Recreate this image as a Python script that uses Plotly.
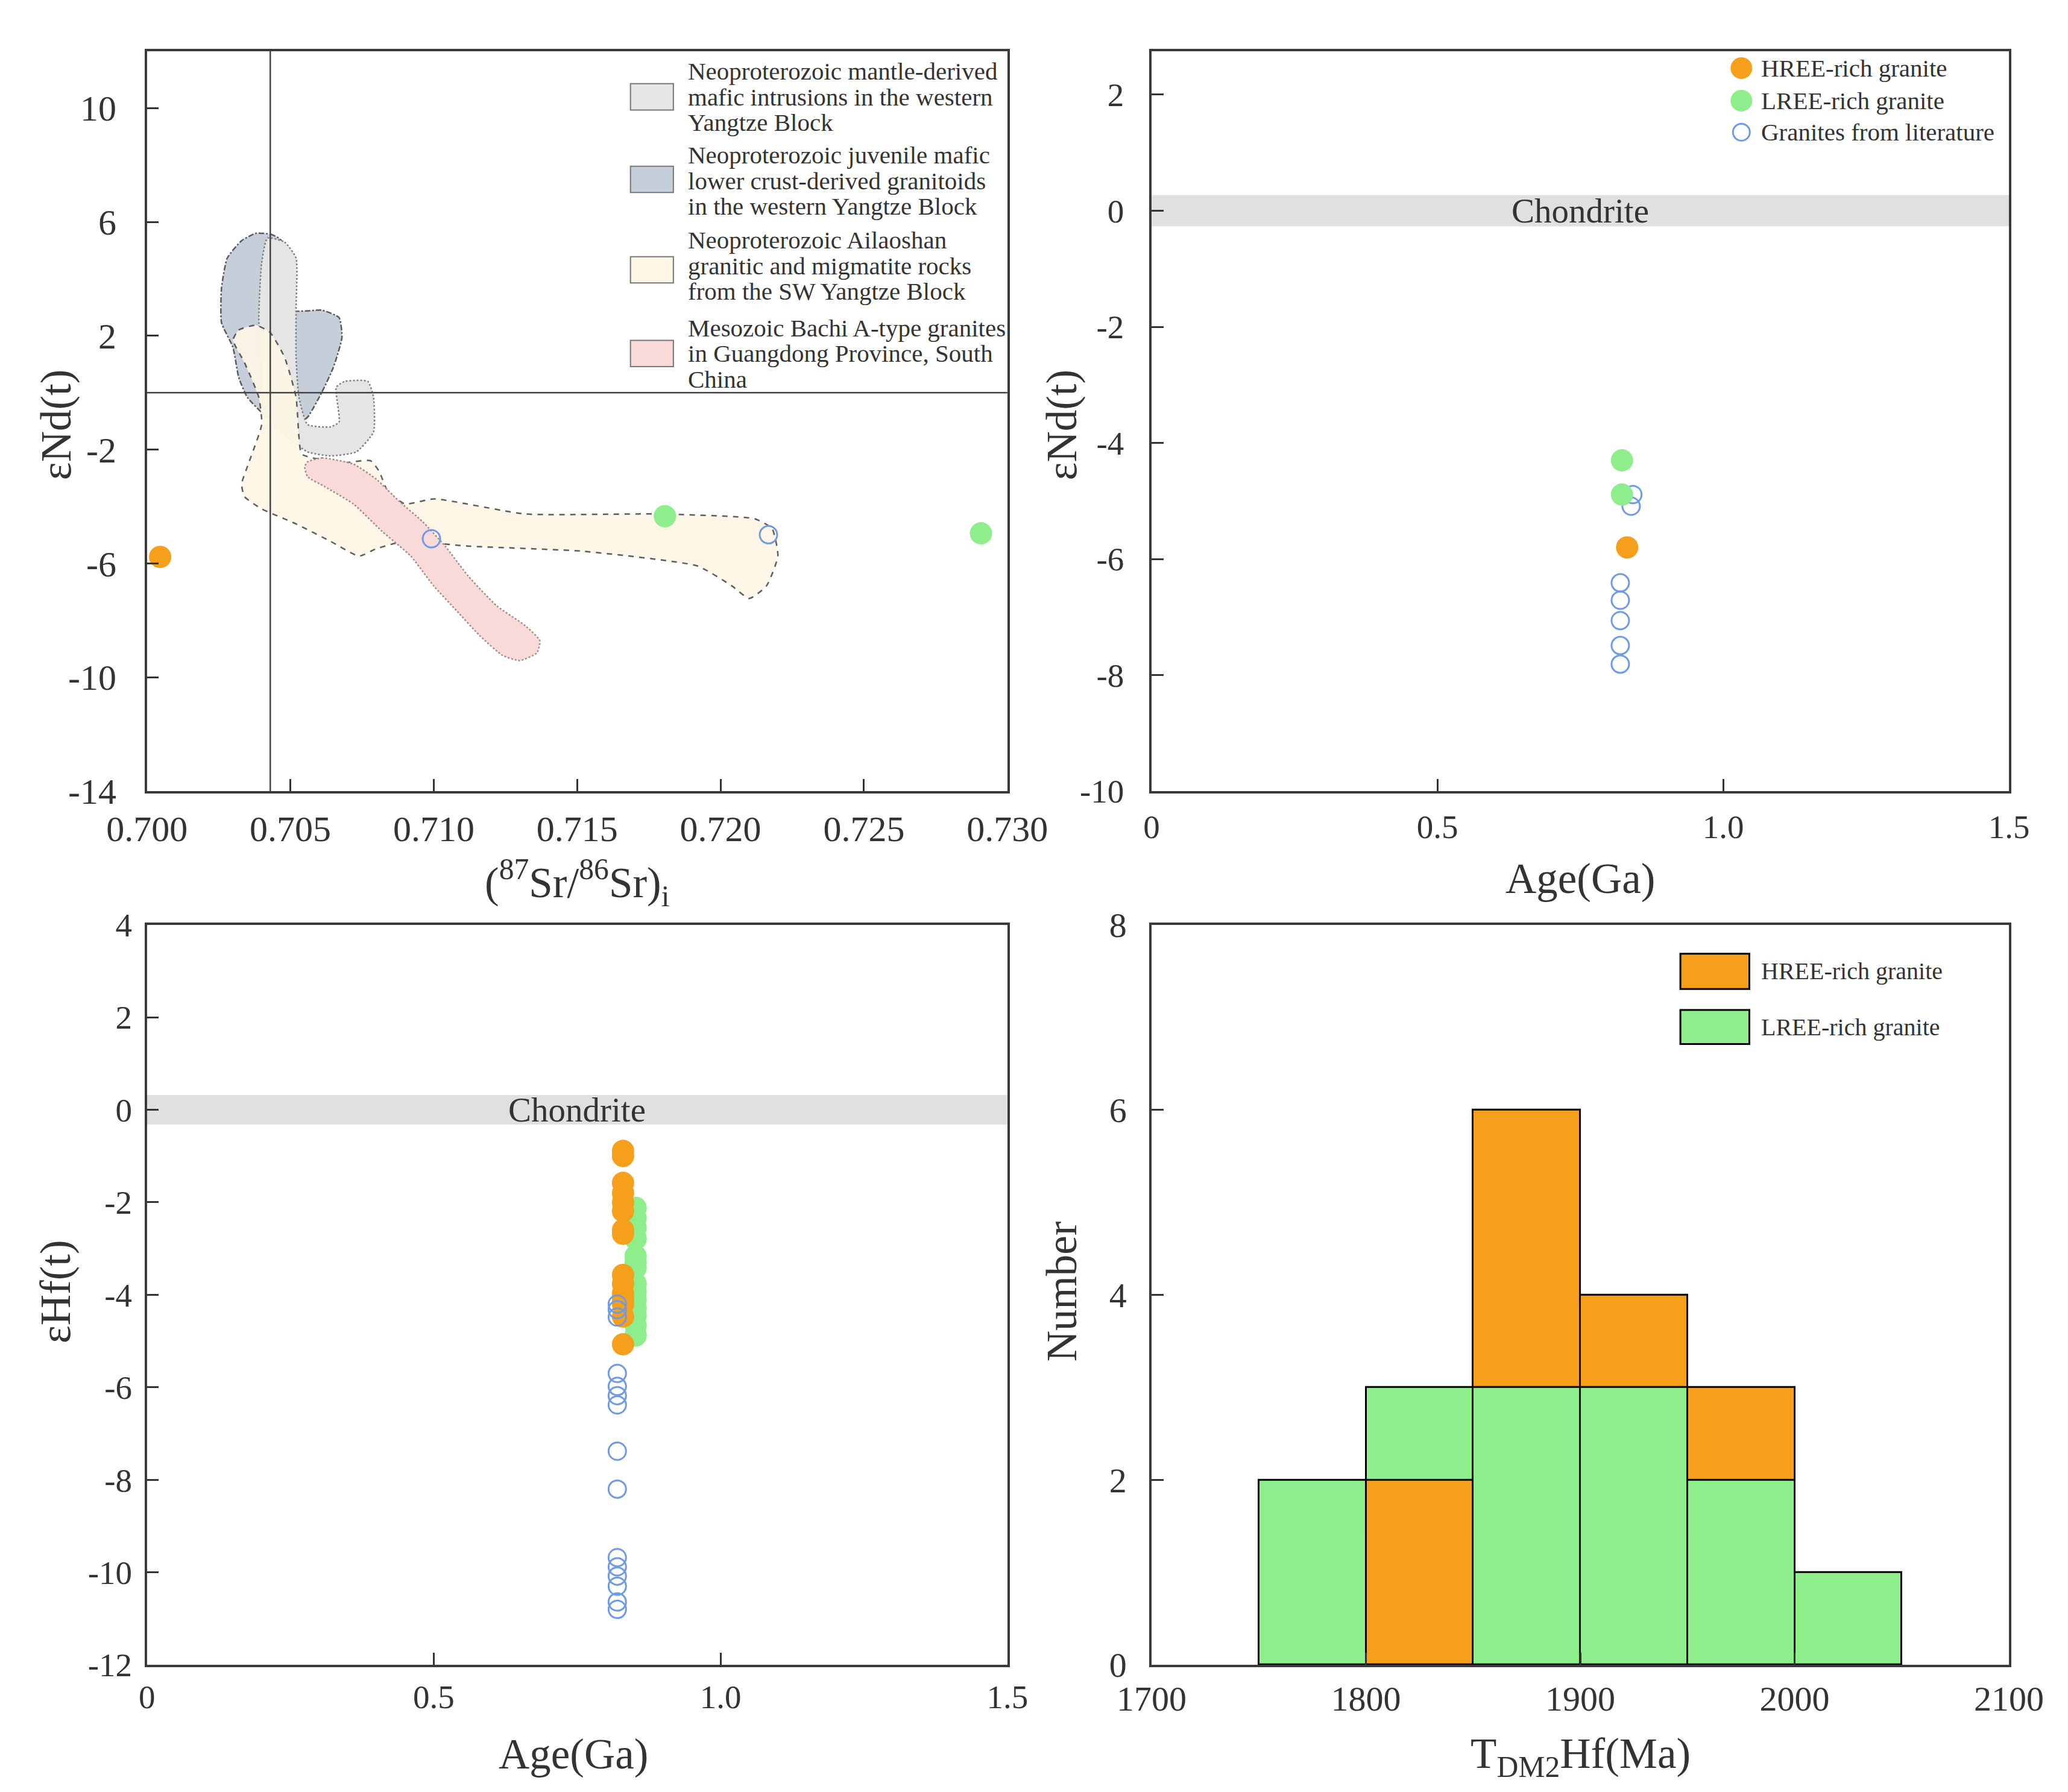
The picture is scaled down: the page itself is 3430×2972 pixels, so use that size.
import plotly.graph_objects as go

# ---- data -------------------------------------------------------------
# (87Sr/86Sr)i vs eNd(t)
sr_hree = [0.70046]
nd_hree_sr = [-5.77]
sr_lree = [0.71806, 0.72908]
nd_lree_sr = [-4.34, -4.94]
sr_lit = [0.70992, 0.72167]
nd_lit_sr = [-5.13, -4.99]
sr_bse = 0.7043

# reference fields (x = Sr ratio, y = eNd)
mafic_x = [0.7042, 0.7048, 0.7052, 0.7052, 0.7052, 0.7053, 0.7056, 0.7064, 0.7067, 0.7066, 0.7069, 0.7077,
           0.7079, 0.7079, 0.7073, 0.7064, 0.7056, 0.7050, 0.7045, 0.7041, 0.7040, 0.7039, 0.7040]
mafic_y = [5.43, 5.29, 4.73, 2.98, 1.24, -0.16, -1.12, -1.20, -1.03, 0.19, 0.40, 0.40,
           -0.16, -1.38, -2.08, -2.22, -2.08, -1.64, -1.20, -0.51, 0.54, 2.64, 4.56]
juvenile_x = [0.7038, 0.7043, 0.7046, 0.7050, 0.7051, 0.7061, 0.7067, 0.7068, 0.7065, 0.7061, 0.7056,
              0.7052, 0.7042, 0.7035, 0.7032, 0.7030, 0.7026, 0.7026, 0.7028, 0.7033]
juvenile_y = [5.60, 5.57, 5.43, 4.90, 2.90, 2.90, 2.64, 1.94, 0.89, 0.02, -0.86,
              -1.12, -0.86, -0.16, 0.54, 1.59, 2.46, 3.68, 4.73, 5.34]
ailaoshan_x = [0.7030, 0.7032, 0.7038, 0.7043, 0.7048, 0.7052, 0.7053, 0.7054, 0.7068, 0.7078, 0.7081,
               0.7084, 0.7090, 0.7100, 0.7132, 0.7178, 0.7212, 0.7218, 0.7220, 0.7216, 0.7210, 0.7204,
               0.7192, 0.7152, 0.7112, 0.7090, 0.7080, 0.7074, 0.7064, 0.7052, 0.7040, 0.7034, 0.7033,
               0.7035, 0.7040, 0.7039, 0.7034]
ailaoshan_y = [1.85, 2.20, 2.37, 2.11, 1.24, -0.16, -1.55, -2.16, -2.46, -2.39, -2.77,
               -3.47, -3.91, -3.73, -4.26, -4.26, -4.43, -4.78, -5.74, -6.79, -7.23, -6.79,
               -6.09, -5.57, -5.39, -5.22, -5.48, -5.74, -5.22, -4.61, -4.08, -3.65, -3.21,
               -2.60, -1.12, -0.16, 1.06]
bachi_x = [0.7056, 0.7061, 0.7072, 0.7080, 0.7088, 0.7096, 0.7104, 0.7112, 0.7122, 0.7132, 0.7137, 0.7136,
           0.7130, 0.7124, 0.7116, 0.7108, 0.7100, 0.7092, 0.7082, 0.7072, 0.7062, 0.7056, 0.7055]
bachi_y = [-2.43, -2.29, -2.51, -3.04, -3.82, -4.52, -5.39, -6.44, -7.49, -8.19, -8.71, -9.14,
           -9.41, -9.23, -8.53, -7.66, -6.79, -5.74, -4.87, -3.91, -3.30, -2.95, -2.60]

field_labels = [
    ["Neoproterozoic mantle-derived", "mafic intrusions in the western", "Yangtze Block"],
    ["Neoproterozoic juvenile mafic", "lower crust-derived granitoids", "in the western Yangtze Block"],
    ["Neoproterozoic Ailaoshan", "granitic and migmatite rocks", "from the SW Yangtze Block"],
    ["Mesozoic Bachi A-type granites", "in Guangdong Province, South", "China"],
]

# Age vs eNd(t)
age_nd_hree = [0.832]
nd_hree = [-5.80]
age_nd_lree = [0.823, 0.823]
nd_lree = [-4.30, -4.89]
age_nd_lit = [0.842, 0.839, 0.820, 0.820, 0.820, 0.820, 0.820]
nd_lit = [-4.89, -5.09, -6.41, -6.71, -7.06, -7.49, -7.81]

# Age vs eHf(t)
hf_hree = [-0.89, -1.00, -1.58, -1.80, -2.00, -2.19, -2.60, -2.68, -3.57, -3.76, -3.97, -4.10, -4.20, -4.47, -5.07]
hf_lree = [-2.12, -2.34, -2.55, -2.79, -3.16, -3.30, -3.42, -3.76, -3.93, -4.10, -4.28, -4.45, -4.67, -4.88]
hf_lit = [-4.20, -4.32, -4.48, -5.70, -5.98, -6.18, -6.38, -7.38, -8.20, -9.68, -9.88, -10.08, -10.30, -10.64, -10.80]
age_hf_hree = 0.830
age_hf_lree = 0.852
age_hf_lit = 0.820

# TDM2 Hf histogram (bin centres, width 50 Ma)
tdm_bins = [1775, 1825, 1875, 1925, 1975, 2025]
tdm_hree = [0, 2, 6, 4, 3, 0]
tdm_lree = [2, 3, 3, 3, 2, 1]

# ---- style --------------------------------------------------------------
FONT = "Liberation Serif"
TXT = "#333333"
ORANGE = "#F59F1B"
GREEN = "#8DEE8B"
BLUE = "#6F9BE6"
fill_cols = ["#E5E5E5", "#C6CEDA", "#FDF6E6", "#FAD9D9"]
edge_cols = ["#808080", "#5A5A5A", "#555555", "#A08C8C"]
edge_dash = ["dot", "dashdot", "dash", "dot"]

fig = go.Figure()

fields = [(juvenile_x, juvenile_y, 1), (mafic_x, mafic_y, 0),
          (ailaoshan_x, ailaoshan_y, 2), (bachi_x, bachi_y, 3)]
for fx, fy, k in fields:
    fig.add_trace(go.Scatter(
        x=fx + fx[:1], y=fy + fy[:1], mode="lines", fill="toself",
        fillcolor=fill_cols[k], opacity=0.95 if k == 2 else 1,
        line=dict(color=edge_cols[k], width=2.5, dash=edge_dash[k], shape="spline", smoothing=0.5),
        xaxis="x", yaxis="y", showlegend=False, hoverinfo="skip"))

def open_marker():
    return dict(symbol="circle-open", size=29, color=BLUE, line=dict(width=3, color=BLUE))

def fill_marker(c):
    return dict(symbol="circle", size=37, color=c)

fig.add_trace(go.Scatter(x=sr_hree, y=nd_hree_sr, mode="markers", marker=fill_marker(ORANGE), xaxis="x", yaxis="y"))
fig.add_trace(go.Scatter(x=sr_lree, y=nd_lree_sr, mode="markers", marker=fill_marker(GREEN), xaxis="x", yaxis="y"))
fig.add_trace(go.Scatter(x=sr_lit, y=nd_lit_sr, mode="markers", marker=open_marker(), xaxis="x", yaxis="y"))

fig.add_trace(go.Scatter(x=age_nd_lit, y=nd_lit, mode="markers", marker=open_marker(), xaxis="x2", yaxis="y2"))
fig.add_trace(go.Scatter(x=age_nd_hree, y=nd_hree, mode="markers", marker=fill_marker(ORANGE), xaxis="x2", yaxis="y2"))
fig.add_trace(go.Scatter(x=age_nd_lree, y=nd_lree, mode="markers", marker=fill_marker(GREEN), xaxis="x2", yaxis="y2"))

fig.add_trace(go.Scatter(x=[age_hf_lree] * len(hf_lree), y=hf_lree, mode="markers", marker=fill_marker(GREEN), xaxis="x3", yaxis="y3"))
fig.add_trace(go.Scatter(x=[age_hf_hree] * len(hf_hree), y=hf_hree, mode="markers", marker=fill_marker(ORANGE), xaxis="x3", yaxis="y3"))
fig.add_trace(go.Scatter(x=[age_hf_lit] * len(hf_lit), y=hf_lit, mode="markers", marker=open_marker(), xaxis="x3", yaxis="y3"))

# histogram: taller bar behind, shorter one in front
back_h, back_c, front_h, front_c = [], [], [], []
for h, l in zip(tdm_hree, tdm_lree):
    if h >= l:
        back_h.append(h); back_c.append(ORANGE); front_h.append(l); front_c.append(GREEN)
    else:
        back_h.append(l); back_c.append(GREEN); front_h.append(h); front_c.append(ORANGE)
fig.add_trace(go.Bar(x=tdm_bins, y=back_h, width=50, marker=dict(color=back_c, line=dict(color="black", width=3)),
                     xaxis="x4", yaxis="y4"))
fig.add_trace(go.Bar(x=tdm_bins, y=[v if v > 0 else None for v in front_h], width=50,
                     marker=dict(color=front_c, line=dict(color="black", width=3)), xaxis="x4", yaxis="y4"))

# ---- axes ------------------------------------------------------------------
L_DOM = [0.0509, 0.4840]
R_DOM = [0.5566, 0.9882]
T_DOM = [0.5622, 0.9846]
B_DOM = [0.0636, 0.4860]

def ax(dom, rng, vals, txt, anchor, standoff, size=55):
    return dict(domain=dom, range=rng, tickvals=vals, ticktext=txt, anchor=anchor,
                ticks="inside", ticklen=20, tickwidth=2.5, tickcolor=TXT,
                showline=True, mirror=True, linecolor="#3a3a3a", linewidth=3.5,
                showgrid=False, zeroline=False, ticklabelstandoff=standoff,
                tickfont=dict(family=FONT, size=size, color=TXT))

sr_ticks = [0.700, 0.705, 0.710, 0.715, 0.720, 0.725, 0.730]
nd1_ticks = [-14, -10, -6, -2, 2, 6, 10]
age_ticks = [0, 0.5, 1.0, 1.5]
nd2_ticks = [-10, -8, -6, -4, -2, 0, 2]
hf_ticks = [-12, -10, -8, -6, -4, -2, 0, 2, 4]
tdm_ticks = [1700, 1800, 1900, 2000, 2100]
num_ticks = [0, 2, 4, 6, 8]
age_txt = ["0", "0.5", "1.0", "1.5"]

fig.update_layout(
    xaxis=ax(L_DOM, [0.700, 0.730], sr_ticks, ["%.3f" % v for v in sr_ticks], "y", 7, 60),
    yaxis=ax(T_DOM, [-14, 12], nd1_ticks, [str(v) for v in nd1_ticks], "x", 35, 60),
    xaxis2=ax(R_DOM, [0, 1.5], age_ticks, age_txt, "y2", 8),
    yaxis2=ax(T_DOM, [-10, 2.75], nd2_ticks, [str(v) for v in nd2_ticks], "x2", 31),
    xaxis3=ax(L_DOM, [0, 1.5], age_ticks, age_txt, "y3", 2),
    yaxis3=ax(B_DOM, [-12, 4], hf_ticks, [str(v) for v in hf_ticks], "x3", 10),
    xaxis4=ax(R_DOM, [1700, 2100], tdm_ticks, [str(v) for v in tdm_ticks], "y4", 2, 58),
    yaxis4=ax(B_DOM, [0, 8], num_ticks, [str(v) for v in num_ticks], "x4", 26, 58),
)

shapes = [
    dict(type="line", xref="x", yref="y domain", x0=sr_bse, x1=sr_bse, y0=0, y1=1,
         line=dict(color="#444", width=2.5)),
    dict(type="line", xref="x domain", yref="y", x0=0, x1=1, y0=0, y1=0,
         line=dict(color="#444", width=2.5)),
    dict(type="rect", xref="x2 domain", yref="y2", x0=0, x1=1, y0=-0.27, y1=0.27,
         fillcolor="#E0E0E0", line=dict(width=0), layer="below"),
    dict(type="rect", xref="x3 domain", yref="y3", x0=0, x1=1, y0=-0.32, y1=0.32,
         fillcolor="#E0E0E0", line=dict(width=0), layer="below"),
]

ann = []
def text(x, y, s, size=41, xanchor="left", angle=0, xref="paper", yref="paper"):
    ann.append(dict(x=x, y=y, xref=xref, yref=yref, text=s, showarrow=False, xanchor=xanchor,
                    yanchor="middle", textangle=angle, font=dict(family=FONT, size=size, color=TXT)))

# legend for reference fields (top-left)
box_top = [0.9660, 0.9189, 0.8673, 0.8195]
text_mid = [0.9585, 0.9107, 0.8621, 0.8120]
line_step = 0.01458
for k, lines in enumerate(field_labels):
    shapes.append(dict(type="rect", xref="paper", yref="paper", x0=0.2943, x1=0.3159,
                       y0=box_top[k] - 0.0150, y1=box_top[k], fillcolor=fill_cols[k],
                       line=dict(color="#777", width=2)))
    for j, s in enumerate(lines):
        text(0.3227, text_mid[k] + line_step * (1 - j), s, size=41)

# legend for symbols (top-right)
sym_y = [0.9749, 0.9563, 0.9383]
sym_names = ["HREE-rich granite", "LREE-rich granite", "Granites from literature"]
for j, (yy, nm) in enumerate(zip(sym_y, sym_names)):
    r = 18 if j < 2 else 14
    shapes.append(dict(type="circle", xref="paper", yref="paper", xsizemode="pixel", ysizemode="pixel",
                       xanchor=0.8535, yanchor=yy, x0=-r, x1=r, y0=-r, y1=r,
                       fillcolor=[ORANGE, GREEN, "rgba(0,0,0,0)"][j],
                       line=dict(color=BLUE if j == 2 else "rgba(0,0,0,0)", width=3 if j == 2 else 0)))
    text(0.8627, yy, nm, size=41)

# legend for histogram (bottom-right)
hist_box = [(0.4493, 0.4695), (0.4179, 0.4374)]
for j, (y0, y1) in enumerate(hist_box):
    shapes.append(dict(type="rect", xref="paper", yref="paper", x0=0.8228, x1=0.8575, y0=y0, y1=y1,
                       fillcolor=[ORANGE, GREEN][j], line=dict(color="black", width=3)))
    text(0.8627, (y0 + y1) / 2, ["HREE-rich granite", "LREE-rich granite"][j], size=40)

# chondrite labels
text(0.75, 0, "Chondrite", size=57, xanchor="center", xref="x2", yref="y2")
text(0.75, 0, "Chondrite", size=57, xanchor="center", xref="x3", yref="y3")

# axis titles
text(0.2675, 0.5099, "(<sup>87</sup>Sr/<sup>86</sup>Sr)<sub>i</sub>", size=71, xanchor="center")
text(0.0052, 0.7715, "εNd(t)", size=71, xanchor="center", angle=-90)
text(0.7724, 0.5122, "Age(Ga)", size=71, xanchor="center")
text(0.5115, 0.7715, "εNd(t)", size=71, xanchor="center", angle=-90)
text(0.2655, 0.0127, "Age(Ga)", size=71, xanchor="center")
text(0.0052, 0.2767, "εHf(t)", size=71, xanchor="center", angle=-90)
text(0.7724, 0.0112, "T<sub>DM2</sub>Hf(Ma)", size=71, xanchor="center")
text(0.5115, 0.2767, "Number", size=71, xanchor="center", angle=-90)

fig.update_layout(
    width=3430, height=2972,
    margin=dict(l=0, r=0, t=0, b=0),
    paper_bgcolor="white", plot_bgcolor="white",
    showlegend=False, barmode="overlay", bargap=0,
    shapes=shapes, annotations=ann,
    font=dict(family=FONT, color=TXT),
)

fig.write_html("out.html")
